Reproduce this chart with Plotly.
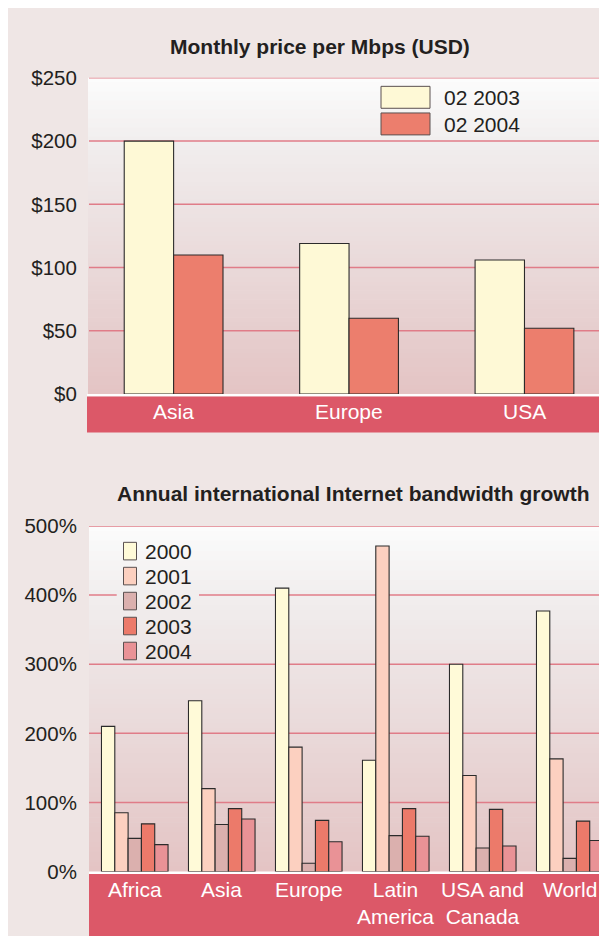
import plotly.graph_objects as go

# top chart: monthly price per Mbps (USD)
price_regions = ["Asia", "Europe", "USA"]
price_series = ["02 2003", "02 2004"]
price_2003 = [200, 119, 106]
price_2004 = [110, 60, 52]
price_ticks = [0, 50, 100, 150, 200, 250]
price_colors = ["#fef9d6", "#ec7e6d"]

# bottom chart: annual international bandwidth growth (%)
growth_regions = ["Africa", "Asia", "Europe", "Latin<br>America", "USA and<br>Canada", "World"]
growth_years = ["2000", "2001", "2002", "2003", "2004"]
growth_2000 = [210, 247, 410, 161, 300, 377]
growth_2001 = [85, 120, 180, 471, 139, 163]
growth_2002 = [48, 68, 12, 52, 34, 19]
growth_2003 = [69, 91, 74, 91, 90, 73]
growth_2004 = [39, 76, 43, 51, 37, 45]
growth_ticks = [0, 100, 200, 300, 400, 500]
growth_colors = ["#fffad8", "#fcd0c0", "#dbb0ae", "#ec7a6a", "#e99296"]

W, H = 607, 936
OFF = 8  # page margin around the plot div
FONT = "Liberation Sans, Arial, Helvetica, sans-serif"
TXT = "#231f20"
GRID = "#e07c88"
BAND = "#dc5868"
OUTER = "#efe6e5"


def px(x):
    return (x - OFF) / W


def py(y):
    return 1 - (y - OFF) / H


# vertical gradient of the plot backgrounds
stops = [(0.0, (252, 252, 252)), (0.2, (241, 238, 238)), (0.45, (236, 225, 225)),
         (0.8, (230, 206, 206)), (1.0, (228, 196, 196))]


def grad(f):
    for (f0, c0), (f1, c1) in zip(stops[:-1], stops[1:]):
        if f <= f1:
            t = (f - f0) / (f1 - f0)
            c = [round(a + (b - a) * t) for a, b in zip(c0, c1)]
            return "rgb(%d,%d,%d)" % tuple(c)
    return "rgb(%d,%d,%d)" % stops[-1][1]


shapes = []


def gradient_strips(x0, x1, top, bottom, n=70):
    h = (bottom - top) / n
    for i in range(n):
        shapes.append(dict(type="rect", xref="paper", yref="paper",
                           x0=px(x0), x1=px(x1), y0=py(top + (i + 1) * h + 0.6), y1=py(top + i * h),
                           fillcolor=grad((i + 0.5) / n), line=dict(width=0), layer="below"))


gradient_strips(88, 620, 67.3, 391.5)
gradient_strips(89, 620, 526.7, 881)

# category bands and white separators
for x0, top, bottom in [(87, 391.5, 431), (89, 881, 950)]:
    shapes.append(dict(type="rect", xref="paper", yref="paper", x0=px(x0), x1=1,
                       y0=py(top + 2.5), y1=py(top), fillcolor="white", line=dict(width=0), layer="below"))
    shapes.append(dict(type="rect", xref="paper", yref="paper", x0=px(x0), x1=1,
                       y0=py(bottom), y1=py(top + 2.5), fillcolor=BAND, line=dict(width=0), layer="below"))

# gridlines
for v in price_ticks[1:]:
    shapes.append(dict(type="line", xref="paper", yref="y", x0=px(89), x1=1, y0=v, y1=v,
                       line=dict(color=GRID, width=1.5), layer="below"))
for v in growth_ticks[1:]:
    segs = [(89, 116.7), (199, 620)] if v == 400 else [(89, 620)]
    for a, b in segs:
        shapes.append(dict(type="line", xref="paper", yref="y2", x0=px(a), x1=px(b), y0=v, y1=v,
                           line=dict(color=GRID, width=1.5), layer="below"))

fig = go.Figure()

# top bars
w = 0.2815
for k, (name, vals) in enumerate(zip(price_series, [price_2003, price_2004])):
    fig.add_trace(go.Bar(x=price_regions, y=vals, name=name, width=w, offset=-w + k * w,
                         marker=dict(color=price_colors[k], line=dict(color="#2b2b2b", width=1.1)),
                         xaxis="x", yaxis="y", showlegend=False))

# bottom bars
w2 = 0.153
growth_vals = [growth_2000, growth_2001, growth_2002, growth_2003, growth_2004]
for k, (name, vals) in enumerate(zip(growth_years, growth_vals)):
    fig.add_trace(go.Bar(x=growth_regions, y=vals, name=name, width=w2, offset=-2.5 * w2 + k * w2,
                         marker=dict(color=growth_colors[k], line=dict(color="#2b2b2b", width=1.1)),
                         xaxis="x2", yaxis="y2", showlegend=False))

ann = []


def label(text, x, y, size=21, color=TXT, xref="paper", xanchor="center", yanchor="middle"):
    ann.append(dict(text=text, x=x, y=y, xref=xref, yref="paper", xanchor=xanchor, yanchor=yanchor,
                    showarrow=False, font=dict(size=size, color=color)))


# titles
label("<b>Monthly price per Mbps (USD)</b>", px(320), py(35))
label("<b>Annual international Internet bandwidth growth</b>", px(352.5), py(493))

# band labels
for r in price_regions:
    label(r, r, py(409), color="white", xref="x")
for r in growth_regions:
    label(r, r, py(886), color="white", xref="x2", yanchor="top")

# legends drawn as swatches + labels
for k, name in enumerate(price_series):
    top = 76 + k * 27.3
    shapes.append(dict(type="rect", xref="paper", yref="paper", x0=px(381), x1=px(430),
                       y0=py(top + 22.5), y1=py(top), fillcolor=price_colors[k],
                       line=dict(color="#5a5050", width=1)))
    label(name, px(442), py(top + 11.5), xanchor="left")
for k, name in enumerate(growth_years):
    top = 543.5 + k * 25.6
    shapes.append(dict(type="rect", xref="paper", yref="paper", x0=px(123.5), x1=px(136.5),
                       y0=py(top + 18), y1=py(top), fillcolor=growth_colors[k],
                       line=dict(color="#5a5050", width=1)))
    label(name, px(143), py(top + 9.5), xanchor="left")

axis_common = dict(showgrid=False, zeroline=False, showline=False)
fig.update_layout(
    width=W, height=H, margin=dict(l=0, r=0, t=0, b=0),
    paper_bgcolor=OUTER, plot_bgcolor="rgba(0,0,0,0)",
    font=dict(family=FONT, color=TXT),
    showlegend=False,
    xaxis=dict(domain=[px(88), 1], range=[-0.488, 2.516], type="category", showticklabels=False,
               anchor="y", **axis_common),
    yaxis=dict(domain=[py(391.5), py(67.3)], range=[0, 250], tickvals=price_ticks,
               ticktext=["$%d" % v for v in price_ticks], ticks="outside", ticklen=6,
               tickcolor="rgba(0,0,0,0)", tickfont=dict(size=20.5, color=TXT), anchor="x", **axis_common),
    xaxis2=dict(domain=[px(89), 1], range=[-0.526, 5.52], type="category", showticklabels=False,
                anchor="y2", **axis_common),
    yaxis2=dict(domain=[py(881), py(526.7)], range=[0, 500], tickvals=growth_ticks,
                ticktext=["%d%%" % v for v in growth_ticks], ticks="outside", ticklen=7,
                tickcolor="rgba(0,0,0,0)", tickfont=dict(size=20.5, color=TXT), anchor="x2", **axis_common),
    shapes=shapes,
    annotations=ann,
)

fig.write_html("out.html")
